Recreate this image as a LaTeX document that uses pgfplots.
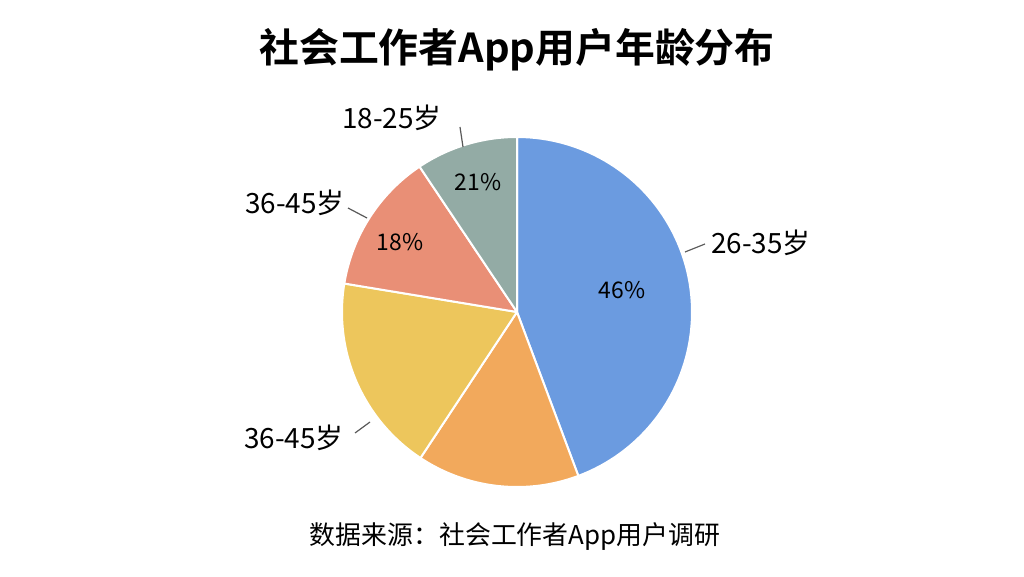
\documentclass[border=0pt]{standalone}
\usepackage{pgfplots}
\usepackage{pgfplotstable}
\pgfplotsset{compat=1.18}
\usepackage{fontspec}
\setmainfont{Noto Sans CJK SC}
\newfontfamily\titlefont{Noto Sans CJK SC Bold}
\definecolor{slice0}{HTML}{6B9BE0}
\definecolor{slice1}{HTML}{F2A95C}
\definecolor{slice2}{HTML}{EDC65C}
\definecolor{slice3}{HTML}{E98F76}
\definecolor{slice4}{HTML}{93ABA5}
% share of each slice in %, clockwise from 12 o'clock
\pgfplotstableread{
group value
26-35 44.3
a 15.0
b 18.3
c 13.0
d 9.4
}\piedata
\begin{document}
\begin{tikzpicture}
\begin{axis}[
  scale only axis, width=1024bp, height=576bp,
  xmin=0, xmax=1024, ymin=0, ymax=576,
  hide axis, clip=false,
]
\path (axis cs:0,0) rectangle (axis cs:1024,576);
\xdef\cum{90}
\pgfplotstableforeachcolumnelement{value}\of\piedata\as\v{%
  \pgfmathsetmacro\a{\cum-\v*3.6}%
  \edef\tmp{\noexpand\addplot[fill=slice\pgfplotstablerow, draw=white, line width=2bp, line join=round, domain=\a:\cum, samples=80, variable=\noexpand\t] ({517+175*cos(\noexpand\t)},{264+175*sin(\noexpand\t)}) -- (axis cs:517,264) -- cycle;}%
  \tmp
  \xdef\cum{\a}%
}
% title and source
\node[font=\titlefont\fontsize{40}{42}\selectfont] at (axis cs:517,526) {社会工作者App用户年龄分布};
\node[font=\fontsize{26}{28}\selectfont] at (axis cs:515,39) {数据来源：社会工作者App用户调研};
% labels
\node[font=\fontsize{28}{30}\selectfont] at (axis cs:392,458) {18-25岁};
\draw[black!65, line width=1.2bp] (axis cs:460,449) -- (axis cs:463,429);
\node[font=\fontsize{28}{30}\selectfont] at (axis cs:295,373) {36-45岁};
\draw[black!65, line width=1.2bp] (axis cs:348,368) -- (axis cs:367,358);
\node[font=\fontsize{28}{30}\selectfont] at (axis cs:761,333) {26-35岁};
\draw[black!65, line width=1.2bp] (axis cs:685,324) -- (axis cs:705,332);
\node[font=\fontsize{28}{30}\selectfont] at (axis cs:294,138) {36-45岁};
\draw[black!65, line width=1.2bp] (axis cs:355,143) -- (axis cs:370,154);
% percentages
\node[font=\fontsize{23}{25}\selectfont] at (axis cs:622,286) {46\%};
\node[font=\fontsize{23}{25}\selectfont] at (axis cs:400,334) {18\%};
\node[font=\fontsize{23}{25}\selectfont] at (axis cs:478,394) {21\%};
\end{axis}
\end{tikzpicture}
\end{document}
